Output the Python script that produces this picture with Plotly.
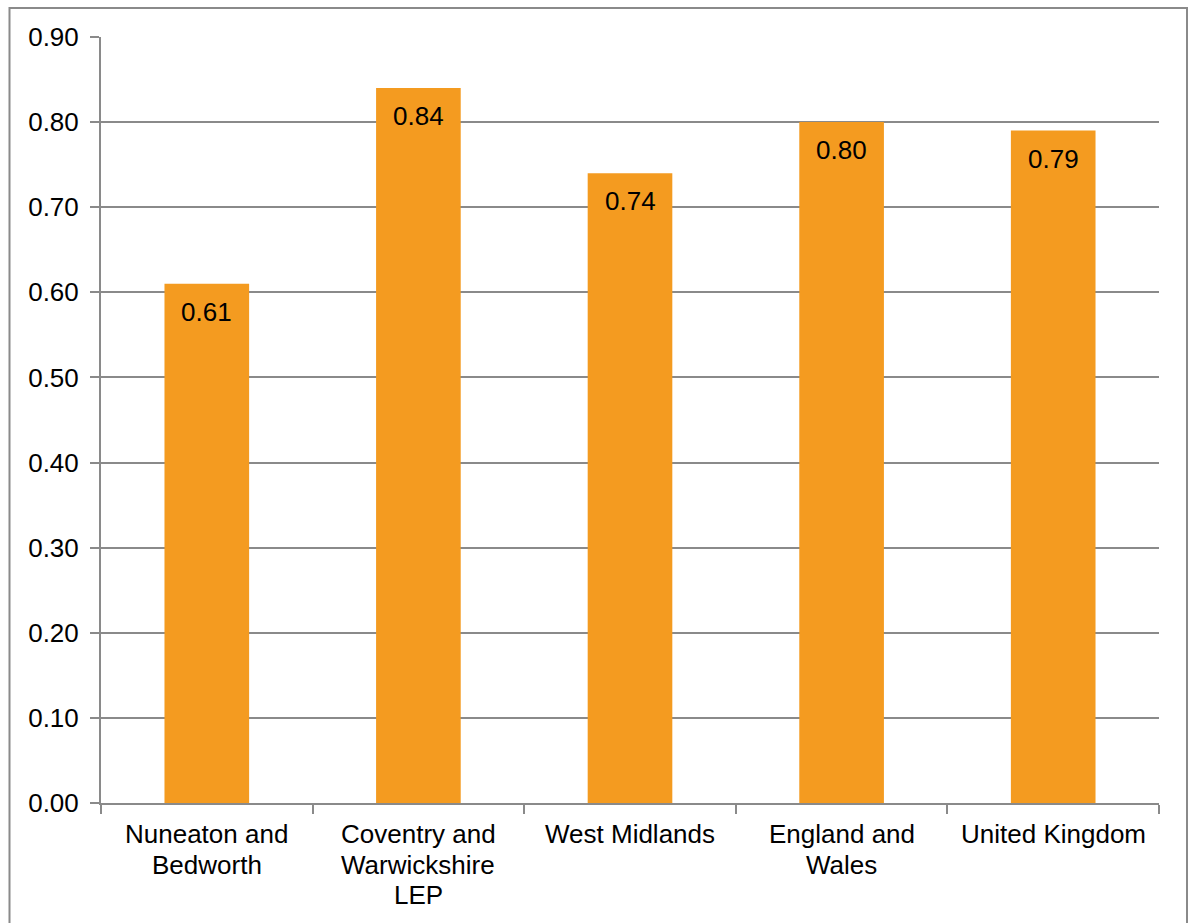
import plotly.graph_objects as go

categories = ["Nuneaton and Bedworth", "Coventry and Warwickshire LEP", "West Midlands",
              "England and Wales", "United Kingdom"]
category_lines = [["Nuneaton and", "Bedworth"], ["Coventry and", "Warwickshire", "LEP"],
                  ["West Midlands"], ["England and", "Wales"], ["United Kingdom"]]
values = [0.61, 0.84, 0.74, 0.80, 0.79]
y_ticks = [0.0, 0.1, 0.2, 0.3, 0.4, 0.5, 0.6, 0.7, 0.8, 0.9]

W, H = 1193, 923
ml, mr, mt, mb = 101, 34, 37, 120
pw, ph = W - ml - mr, H - mt - mb
FONT = "Liberation Sans, Arial"
FS = 26

fig = go.Figure(go.Bar(
    x=categories, y=values,
    marker=dict(color="#F49B20", line=dict(width=0)),
    width=0.4,
    hoverinfo="x+y",
))

def px_x(p):
    return (p - ml) / pw

def px_y(p):
    return (H - mb - p) / ph

# data labels inside bar tops
for c, v in zip(categories, values):
    fig.add_annotation(x=c, y=v, xref="x", yref="y", text=f"{v:.2f}", showarrow=False,
                       yanchor="middle", xanchor="center", yshift=-28,
                       font=dict(family=FONT, size=FS, color="#000000"))

# category labels, one line at a time
line_centers = [834, 864.5, 895]
for c, lines in zip(categories, category_lines):
    for i, ln in enumerate(lines):
        fig.add_annotation(x=c, y=px_y(line_centers[i]), xref="x", yref="paper", text=ln,
                           showarrow=False, yanchor="middle", xanchor="center",
                           font=dict(family=FONT, size=FS, color="#000000"))

fig.add_shape(type="rect", xref="paper", yref="paper",
              x0=px_x(9.5), x1=px_x(1187), y0=px_y(940), y1=px_y(8),
              line=dict(color="#8a8a8a", width=2), fillcolor="rgba(0,0,0,0)", layer="below")

fig.update_layout(
    width=W, height=H,
    margin=dict(l=ml, r=mr, t=mt, b=mb, pad=0),
    paper_bgcolor="white", plot_bgcolor="white",
    showlegend=False,
    font=dict(family=FONT, size=FS, color="#000000"),
)
fig.update_xaxes(
    showline=True, linecolor="#8a8a8a", linewidth=2,
    ticks="outside", tickson="boundaries", ticklen=9, tickcolor="#8a8a8a", tickwidth=2,
    showgrid=False, showticklabels=False, fixedrange=True,
)
fig.update_yaxes(
    range=[0, 0.9], tickvals=y_ticks, ticktext=[f"{v:.2f}" for v in y_ticks],
    showline=True, linecolor="#8a8a8a", linewidth=2,
    ticks="outside", ticklen=9, tickcolor="#8a8a8a", tickwidth=2,
    showgrid=True, gridcolor="#8a8a8a", gridwidth=1.5,
    zeroline=False, tickfont=dict(family=FONT, size=FS), ticklabelstandoff=6,
)

fig.write_html("out.html")
